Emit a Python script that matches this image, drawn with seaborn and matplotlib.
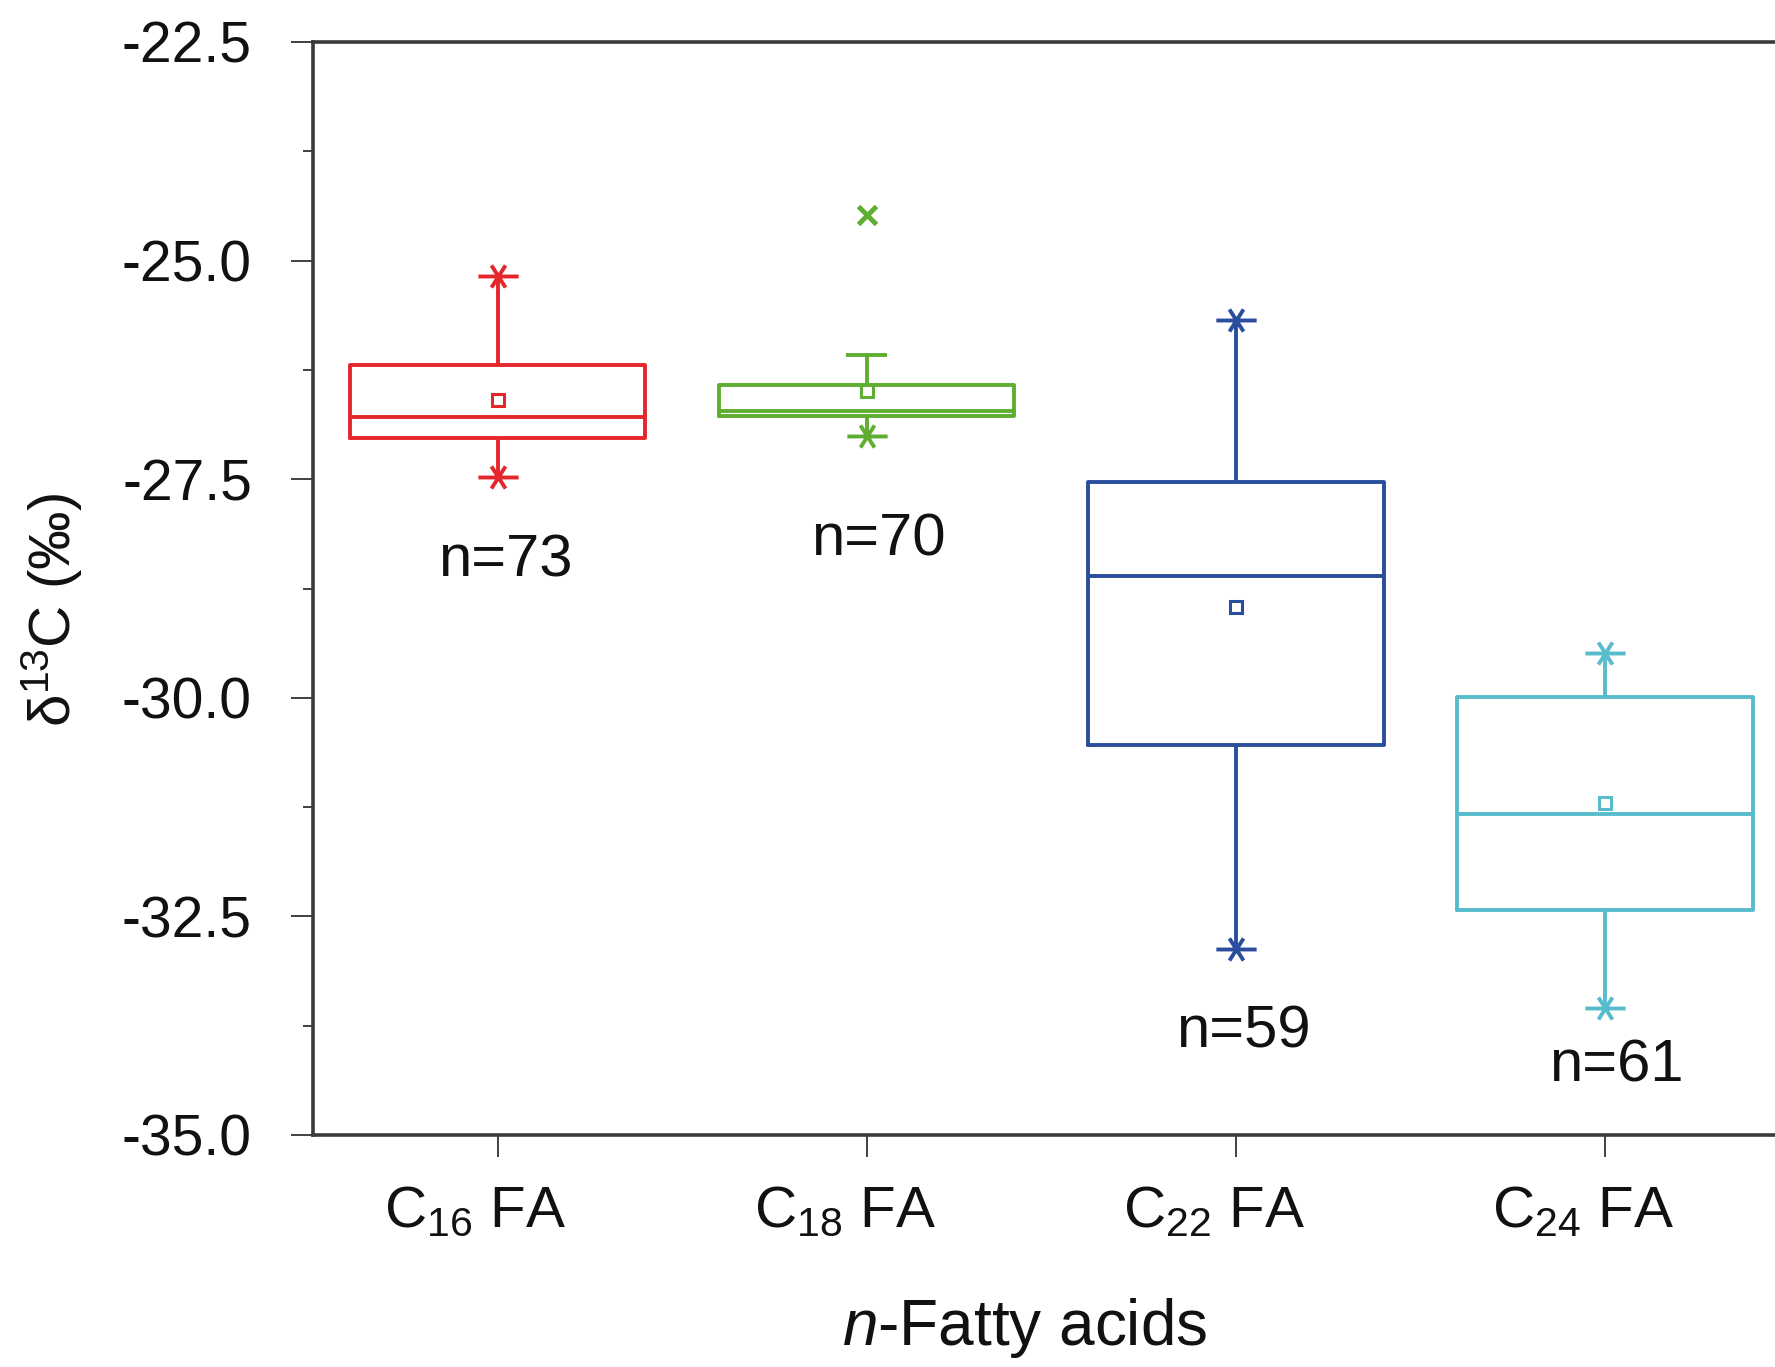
import numpy as np
import pandas as pd
import matplotlib
matplotlib.use("Agg")
import matplotlib.pyplot as plt
import matplotlib.transforms as mtransforms
from matplotlib.path import Path
import seaborn as sns

# ---------------- data ----------------
categories = ["C16", "C18", "C22", "C24"]
tick_labels = [r"C$_{16}$ FA", r"C$_{18}$ FA", r"C$_{22}$ FA", r"C$_{24}$ FA"]
whisk_lo = [-27.47, -27.01, -32.87, -33.55]
q1 = [-27.03, -26.78, -30.54, -32.43]
median = [-26.79, -26.72, -28.61, -31.33]
q3 = [-26.19, -26.42, -27.53, -29.99]
whisk_hi = [-25.18, -26.08, -25.68, -29.49]
means = [-26.59, -26.49, -28.96, -31.20]
# extreme markers (asterisks) at whisker ends; None = capped whisker instead
star_lo = [-27.47, -27.01, -32.87, -33.55]
star_hi = [-25.18, None, -25.68, -29.49]
capped_hi = [None, -26.08, None, None]
outliers_x = [None, -24.48, None, None]
n_labels = ["n=73", "n=70", "n=59", "n=61"]

colors = ["#e5262b", "#5fae31", "#2a4d9e", "#58bccd"]

# ---------------- styling ----------------
sns.set_style("ticks")
plt.rcParams["font.family"] = ["Liberation Sans", "DejaVu Sans"]
plt.rcParams["mathtext.fontset"] = "custom"
plt.rcParams["mathtext.rm"] = "Liberation Sans"
plt.rcParams["mathtext.it"] = "Liberation Sans:italic"
plt.rcParams["mathtext.default"] = "regular"

W, H = 1775, 1367
fig = plt.figure(figsize=(W / 100, H / 100), dpi=100)
left, right, top, bottom = 313, 1775, 42, 1135
ax = fig.add_axes([left / W, 1 - bottom / H, (right - left) / W, (bottom - top) / H])

# long-form table of the five-number summaries: with whis=(0, 100) seaborn
# reproduces exactly these quartiles, median and whisker ends
rows = []
for c, lo, a, m, b, hi in zip(categories, whisk_lo, q1, median, q3, whisk_hi):
    for v in (lo, a, m, b, hi):
        rows.append({"acid": c, "d13C": v})
df = pd.DataFrame(rows)
pal = dict(zip(categories, colors))

lw = 2.8
sns.boxplot(data=df, x="acid", y="d13C", hue="acid", palette=pal, order=categories,
            whis=(0, 100), showcaps=False, fill=False, width=0.8, linewidth=lw,
            showfliers=False, legend=False, ax=ax)

# asterisk marker: horizontal spoke + steep X
star = Path([(-1, 0), (1, 0), (-0.35, -0.55), (0.35, 0.55), (-0.35, 0.55), (0.35, -0.55)],
            [Path.MOVETO, Path.LINETO, Path.MOVETO, Path.LINETO, Path.MOVETO, Path.LINETO])

for i, c in enumerate(categories):
    col = colors[i]
    ax.plot([i], [means[i]], marker="s", ms=9, mfc="white", mec=col, mew=2.2, ls="none", zorder=5)
    for v in (star_lo[i], star_hi[i]):
        if v is not None:
            ax.plot([i], [v], marker=star, ms=29, mec=col, mew=2.8, ls="none", zorder=5)
    if capped_hi[i] is not None:
        ax.hlines(capped_hi[i], i - 0.055, i + 0.055, colors=col, lw=lw, zorder=5)
    if outliers_x[i] is not None:
        ax.plot([i], [outliers_x[i]], marker="x", ms=13, mec=col, mew=3.5, ls="none", zorder=5)

# n labels (offset from each category centre)
n_pos = [(0.02, -28.44), (0.03, -28.20), (0.02, -33.82), (0.03, -34.21)]
for i, ((dx, y), t) in enumerate(zip(n_pos, n_labels)):
    ax.text(i + dx, y, t, ha="center", va="center", fontsize=43, color="#111111")

# axes
ax.set_xlim(-0.5, 3.46)
ax.set_ylim(-35, -22.5)
ax.set_yticks(np.arange(-35, -22.4, 2.5))
ax.set_yticklabels([f"{v:.1f}" for v in np.arange(-35, -22.4, 2.5)])
ax.set_yticks(np.arange(-33.75, -22.5, 2.5), minor=True)
ax.set_xticks(range(len(categories)))
ax.set_xticklabels(tick_labels)

ax.tick_params(axis="y", which="major", direction="out", length=16, width=1.3,
               pad=28, labelsize=41, color="#333333", labelcolor="#111111")
ax.tick_params(axis="y", which="minor", direction="out", length=7, width=1.3, color="#333333")
ax.tick_params(axis="x", which="major", direction="out", length=16, width=1.3,
               pad=20, labelsize=42, color="#333333", labelcolor="#111111")

# reference x tick labels sit a little left of their ticks
shift = mtransforms.ScaledTranslation(-22 / 100, 0, fig.dpi_scale_trans)
for lab in ax.get_xticklabels():
    lab.set_transform(lab.get_transform() + shift)

for side in ("left", "top", "bottom"):
    ax.spines[side].set_visible(True)
    ax.spines[side].set_linewidth(2.6)
    ax.spines[side].set_color("#3a3a3a")
ax.spines["right"].set_visible(False)

ax.set_xlabel(r"$\it{n}$-Fatty acids", fontsize=46, color="#111111")
ax.xaxis.set_label_coords((1025 - left) / (right - left), -(1328 - bottom) / (bottom - top))
ax.set_ylabel(r"δ$^{13}$C (‰)", fontsize=42, color="#111111")
ax.yaxis.set_label_coords(-(left - 52) / (right - left), 0.48)
ax.xaxis.label.set_va("center")
ax.yaxis.label.set_va("center")

fig.savefig("out.png", dpi=100, facecolor="white")
